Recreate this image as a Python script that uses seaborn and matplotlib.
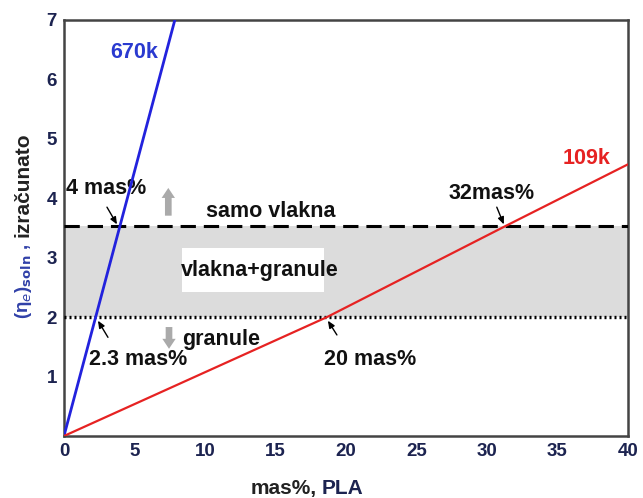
import matplotlib
matplotlib.use("Agg")
import matplotlib.pyplot as plt
from matplotlib.patches import Rectangle
import seaborn as sns
import pandas as pd

# data
x_670k = [0.0, 8.0]
y_670k = [0.0, 7.12]
x_109k = [0.0, 18.65, 31.3, 40.0]
y_109k = [0.0, 2.0, 3.53, 4.57]
lower_limit = 2.0
upper_limit = 3.53
x_ticks = [0, 5, 10, 15, 20, 25, 30, 35, 40]
y_ticks = [1, 2, 3, 4, 5, 6, 7]

sns.set_theme(style="white")
plt.rcParams['font.family'] = ['Liberation Sans', 'DejaVu Sans']

fig = plt.figure(figsize=(6.43, 4.98), dpi=100)
ax = fig.add_axes([0.0995, 0.1245, 0.877, 0.8355])

ax.axhspan(lower_limit, upper_limit, color='#dcdcdc', zorder=0, lw=0)

df_b = pd.DataFrame({'x': x_670k, 'y': y_670k})
df_r = pd.DataFrame({'x': x_109k, 'y': y_109k})
sns.lineplot(data=df_b, x='x', y='y', ax=ax, color='#2222dd', lw=2.0, zorder=4)
sns.lineplot(data=df_r, x='x', y='y', ax=ax, color='#e62222', lw=1.6, zorder=4)

ax.axhline(upper_limit, color='black', lw=2.2, ls=(0, (5, 2.6)), zorder=3)
ax.axhline(lower_limit, color='black', lw=2.4, ls=(0, (0.6, 0.9)), zorder=3)

ax.set_xlim(0, 40)
ax.set_ylim(0, 7)
ax.set_xticks(x_ticks)
ax.set_yticks(y_ticks)
ax.set_xticks(range(0, 41), minor=True)
ax.set_yticks([i * 0.2 for i in range(0, 36)], minor=True)
tick_color = '#1c2350'
ax.tick_params(axis='both', which='major', direction='in', length=6, width=1.3,
               labelsize=13.5, colors='#333333', labelcolor=tick_color, pad=5)
ax.tick_params(axis='both', which='minor', direction='in', length=3, width=1.1, colors='#333333')
ax.tick_params(top=False, right=False, which='both')
for lab in ax.get_xticklabels() + ax.get_yticklabels():
    lab.set_fontweight('bold')
for s in ax.spines.values():
    s.set_color('#444444')
    s.set_linewidth(1.8)

ax.set_xlabel('')
ax.set_ylabel('')

# axis labels
fig.text(0.492, 0.0, 'mas%,', fontsize=15, fontweight='bold', color='#222222', ha='right', va='bottom')
fig.text(0.5, 0.0, 'PLA', fontsize=15, fontweight='bold', color='#1c2350', ha='left', va='bottom')
fig.text(0.036, 0.51, '(η$_e$)$_{\\mathbf{soln}}$ ,', fontsize=13.5, fontweight='bold', color='#3040a8',
         rotation=90, ha='center', va='top')
fig.text(0.036, 0.525, 'izračunato', fontsize=15, fontweight='bold', color='#222222',
         rotation=90, ha='center', va='bottom')

fs = 15.5
bold = dict(fontsize=fs, fontweight='bold', color='#111111')
ax.text(5.0, 6.45, '670k', color='#2a3ad0', fontsize=fs, fontweight='bold', ha='center', va='center')
ax.text(37.1, 4.67, '109k', color='#e62222', fontsize=fs, fontweight='bold', ha='center', va='center')
ax.text(14.7, 3.78, 'samo vlakna', ha='center', va='center', **bold)
ax.add_patch(Rectangle((8.37, 2.42), 10.1, 0.74, fc='white', ec='none', zorder=1))
ax.text(13.9, 2.79, 'vlakna+granule', ha='center', va='center', zorder=5, **bold)
ax.text(11.15, 1.63, 'granule', ha='center', va='center', **bold)

# gray arrows
garr = dict(arrowstyle='simple,head_width=0.8,head_length=0.6,tail_width=0.4', color='#aaaaaa', lw=0)
ax.annotate('', xy=(7.4, 4.22), xytext=(7.4, 3.66), arrowprops=garr)
ax.annotate('', xy=(7.45, 1.42), xytext=(7.45, 1.88), arrowprops=garr)

arr = dict(arrowstyle='-|>,head_width=0.15,head_length=0.35', color='black', lw=1.0, shrinkA=0, shrinkB=0)
ax.text(3.0, 4.17, '4 mas%', ha='center', va='center', **bold)
ax.annotate('', xy=(3.76, 3.56), xytext=(3.05, 3.85), arrowprops=arr)
ax.text(5.25, 1.28, '2.3 mas%', ha='center', va='center', **bold)
ax.annotate('', xy=(2.41, 1.94), xytext=(3.12, 1.66), arrowprops=arr)
ax.text(21.7, 1.28, '20 mas%', ha='center', va='center', **bold)
ax.annotate('', xy=(18.72, 1.94), xytext=(19.36, 1.70), arrowprops=arr)
ax.text(30.35, 4.08, '32mas%', ha='center', va='center', **bold)
ax.annotate('', xy=(31.2, 3.56), xytext=(30.7, 3.85), arrowprops=arr)

fig.savefig('out.png', dpi=100)
